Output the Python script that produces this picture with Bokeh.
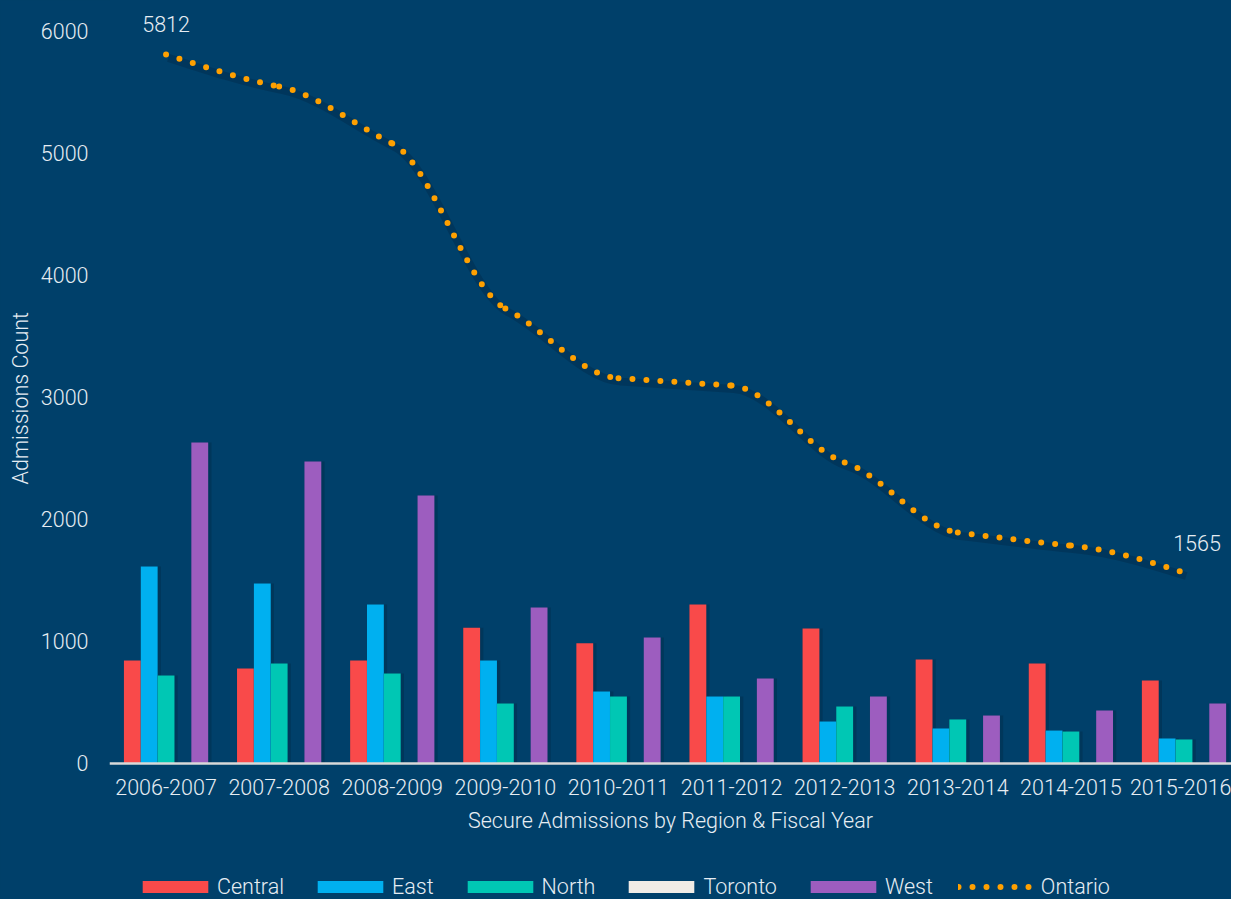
import numpy as np
from bokeh.plotting import figure
from bokeh.models import ColumnDataSource, FixedTicker, Legend, LegendItem, Range1d, Title
from bokeh.core.properties import value
from bokeh.embed import file_html
from bokeh.resources import INLINE

# ---------------- data ----------------
years = ["2006-2007", "2007-2008", "2008-2009", "2009-2010", "2010-2011",
         "2011-2012", "2012-2013", "2013-2014", "2014-2015", "2015-2016"]
central = [844, 779, 844, 1113, 986, 1303, 1107, 852, 820, 680]
east = [1615, 1475, 1303, 844, 590, 549, 344, 287, 270, 205]
north = [721, 820, 738, 492, 549, 549, 467, 361, 262, 197]
toronto = [0, 0, 0, 0, 0, 0, 0, 0, 0, 0]
west = [2631, 2475, 2197, 1279, 1033, 697, 549, 393, 434, 492]
ontario = [5812, 5549, 5082, 3730, 3158, 3098, 2467, 1893, 1786, 1565]
y_ticks = [0, 1000, 2000, 3000, 4000, 5000, 6000]

series_names = ["Central", "East", "North", "Toronto", "West"]
series_vals = [central, east, north, toronto, west]
colors = ["#f94a4a", "#00b0f0", "#00c7b4", "#f0ece6", "#9d5dbf"]
line_color = "#ffa000"
bg = "#00406a"
txt = "#e6edf3"
FONT = "'Roboto Light', Roboto"
FS = "21.5px"

# ---------------- figure ----------------
# frame fills the figure height; the x axis is pinned at y = 0 so that the
# axis texts and the legend sit inside the lower part of the frame
p = figure(width=1231, height=899, output_backend="svg", toolbar_location=None,
           x_range=Range1d(-0.5, 9.42), y_range=Range1d(-1115, 6254),
           min_border_left=100, min_border_right=0, min_border_top=0,
           min_border_bottom=0)
p.background_fill_color = bg
p.border_fill_color = bg
p.outline_line_color = None
p.styles = {"background-color": bg}
p.xgrid.grid_line_color = None
p.ygrid.grid_line_color = None

xi = np.arange(len(years))
bw = 0.149
offsets = [-2, -1, 0, 1, 2]

renderers = []
for name, vals, col, off in zip(series_names, series_vals, colors, offsets):
    src = ColumnDataSource(dict(x=xi + off * bw, top=vals))
    shadow_src = ColumnDataSource(dict(x=xi + off * bw + 0.014, top=vals))
    p.vbar(x="x", top="top", width=bw + 0.03, bottom=0, source=shadow_src,
           fill_color="#001a30", fill_alpha=0.25, line_color=None)
    r = p.vbar(x="x", top="top", width=bw, bottom=0, source=src,
               fill_color=col, line_color=None)
    renderers.append((name, r))

# ---------------- Ontario smooth dotted line (monotone cubic bezier) ----------------
xs = xi.astype(float)
ys = np.array(ontario, dtype=float)
n = len(xs)
h = np.diff(xs)
s = np.diff(ys) / h
m = np.zeros(n)
for i in range(1, n - 1):
    s0, s1 = s[i - 1], s[i]
    pp = (s0 * h[i] + s1 * h[i - 1]) / (h[i - 1] + h[i])
    if s0 * s1 <= 0:
        m[i] = 0.0
    else:
        m[i] = np.sign(s0) * min(abs(s0), abs(s1), 0.5 * abs(pp))
m[0] = (3 * s[0] - m[1]) / 2
m[-1] = (3 * s[-1] - m[-2]) / 2


def bez_source(dx=0.0, dy=0.0):
    return ColumnDataSource(dict(
        x0=xs[:-1] + dx, y0=ys[:-1] + dy, x1=xs[1:] + dx, y1=ys[1:] + dy,
        cx0=xs[:-1] + h / 3 + dx, cy0=ys[:-1] + m[:-1] * h / 3 + dy,
        cx1=xs[1:] - h / 3 + dx, cy1=ys[1:] - m[1:] * h / 3 + dy,
    ))


# soft shadow of the dotted line
p.bezier(x0="x0", y0="y0", x1="x1", y1="y1", cx0="cx0", cy0="cy0",
         cx1="cx1", cy1="cy1", source=bez_source(0.02, -28),
         line_color="#00223a", line_alpha=0.3, line_width=8)
p.bezier(x0="x0", y0="y0", x1="x1", y1="y1", cx0="cx0", cy0="cy0",
         cx1="cx1", cy1="cy1", source=bez_source(), line_color=line_color,
         line_width=6, line_dash="0 14", line_cap="round")
# legend-only stand-in for the dotted line (draws nothing in the plot)
leg_line = p.line(x=[np.nan], y=[np.nan], line_color=line_color, line_width=6,
                  line_dash="0 14", line_cap="round")

# end labels
lab_src = ColumnDataSource(dict(x=[xs[0], xs[-1]], y=[ys[0], ys[-1]],
                                t=[str(ontario[0]), str(ontario[-1])],
                                dx=[0, 13]))
p.text(x="x", y="y", text="t", source=lab_src, text_align="center",
       text_baseline="bottom", x_offset="dx", y_offset=-22, text_color=txt,
       text_font=value(FONT), text_font_size=FS)

# ---------------- axes ----------------
p.xaxis.fixed_location = 0
p.xaxis.bounds = (-0.5, 9.5)
p.xaxis.ticker = FixedTicker(ticks=list(range(len(years))))
p.xaxis.major_label_overrides = {i: y for i, y in enumerate(years)}
p.xaxis.axis_line_color = "#d9d9d9"
p.xaxis.axis_line_width = 2.5
p.xaxis.major_tick_line_color = None
p.xaxis.minor_tick_line_color = None
p.xaxis.major_tick_out = 0
p.xaxis.major_tick_in = 0
p.xaxis.major_label_standoff = 16
p.xaxis.axis_label = "Secure Admissions by Region & Fiscal Year"
p.xaxis.axis_label_standoff = 9

p.yaxis.ticker = FixedTicker(ticks=y_ticks)
p.yaxis.axis_line_color = None
p.yaxis.major_tick_line_color = None
p.yaxis.minor_tick_line_color = None
p.yaxis.major_tick_out = 0
p.yaxis.major_tick_in = 0
p.yaxis.major_label_standoff = 21

for ax in (p.xaxis[0], p.yaxis[0]):
    ax.major_label_text_color = txt
    ax.major_label_text_font = FONT
    ax.major_label_text_font_size = FS
    ax.axis_label_text_color = txt
    ax.axis_label_text_font = FONT
    ax.axis_label_text_font_size = FS
    ax.axis_label_text_font_style = "normal"

# y-axis title, centred on the 0..6000 span (not on the whole frame)
p.add_layout(Title(text="Admissions Count", align="left", offset=415,
                   standoff=10, text_color=txt, text_font=FONT,
                   text_font_size=FS, text_font_style="normal"), "left")

# ---------------- legend ----------------
items = [LegendItem(label=nm, renderers=[r]) for nm, r in renderers]
items.append(LegendItem(label="Ontario", renderers=[leg_line]))
legend = Legend(items=items, orientation="horizontal", location=(25, 0),
                glyph_width=82, glyph_height=15, label_standoff=1, spacing=25,
                padding=0, margin=0, border_line_color=None,
                background_fill_alpha=0, label_text_color=txt,
                label_text_font=FONT, label_text_font_size=FS)
p.add_layout(legend, "center")

open("out.html", "w").write(file_html(p, INLINE))
